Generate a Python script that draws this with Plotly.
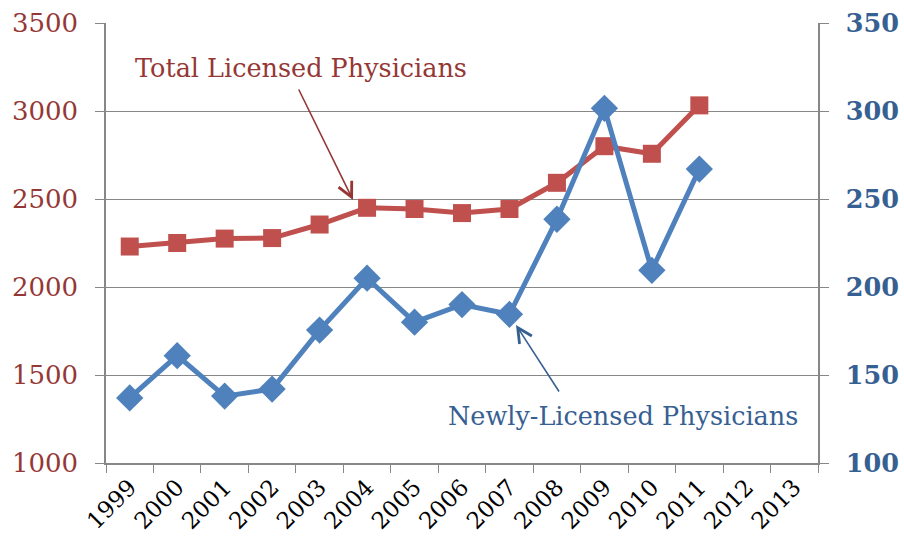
import plotly.graph_objects as go

years = [str(y) for y in range(1999, 2014)]
data_years = [str(y) for y in range(1999, 2012)]
total_licensed = [2230, 2250, 2275, 2278, 2355, 2450, 2443, 2420, 2443, 2592, 2800, 2757, 3032]
newly_licensed = [137, 161, 138, 142, 175.5, 205, 180, 190, 184.5, 238.5, 301.5, 209.5, 267]
left_ticks = [1000, 1500, 2000, 2500, 3000, 3500]
right_ticks = [100, 150, 200, 250, 300, 350]

RED = "#C0504D"
RED_TXT = "#953735"
BLUE = "#4F81BD"
BLUE_TXT = "#376092"
GRID = "#878787"
FONT = "DejaVu Serif"

fig = go.Figure()
fig.add_trace(go.Scatter(
    x=data_years, y=total_licensed, mode="lines+markers",
    line=dict(color=RED, width=5), marker=dict(symbol="square", size=18, color=RED),
    yaxis="y", showlegend=False))
fig.add_trace(go.Scatter(
    x=data_years, y=newly_licensed, mode="lines+markers",
    line=dict(color=BLUE, width=5), marker=dict(symbol="diamond", size=21, color=BLUE),
    yaxis="y2", showlegend=False))

fig.update_layout(
    width=904, height=538,
    margin=dict(l=106, r=86, t=23, b=75, autoexpand=False),
    paper_bgcolor="white", plot_bgcolor="white",
    xaxis=dict(type="category", categoryorder="array", categoryarray=years,
               range=[-0.5, len(years) - 0.5],
               tickmode="array", tickvals=years, ticktext=years,
               tickson="boundaries", ticks="outside", ticklen=8, tickcolor=GRID,
               tickangle=-45, showline=True, linecolor=GRID, linewidth=1.5,
               showgrid=False, zeroline=False,
               tickfont=dict(family=FONT, size=23, color="black")),
    yaxis=dict(range=[1000, 3500], tickvals=left_ticks, ticks="outside", ticklen=9,
               tickcolor=GRID, showline=True, linecolor=GRID, linewidth=1.5,
               showgrid=True, gridcolor=GRID, gridwidth=1.2, zeroline=False,
               ticklabelstandoff=12,
               tickfont=dict(family=FONT, size=26, color=RED_TXT)),
    yaxis2=dict(range=[100, 350], tickvals=right_ticks, overlaying="y", side="right",
                ticks="outside", ticklen=9, tickcolor=GRID, showline=True,
                linecolor=GRID, linewidth=1.5, showgrid=False, zeroline=False,
                ticklabelstandoff=12,
                tickfont=dict(family=FONT, size=25.5, color=BLUE_TXT, weight="bold")),
)

fig.add_annotation(xref="paper", yref="paper", x=(133 - 106) / 712, y=(463 - 68) / 440,
                   text="Total Licensed Physicians", showarrow=False,
                   xanchor="left", yanchor="middle",
                   font=dict(family=FONT, size=25.5, color=RED_TXT))
fig.add_annotation(xref="paper", yref="paper", x=(353 - 106) / 712, y=(463 - 200) / 440,
                   ax=-55, ay=-112, text="", showarrow=True,
                   arrowhead=5, arrowsize=1.8, arrowwidth=1.6, arrowcolor=RED_TXT)
fig.add_annotation(xref="paper", yref="paper", x=(446 - 106) / 712, y=(463 - 416) / 440,
                   text="Newly-Licensed Physicians", showarrow=False,
                   xanchor="left", yanchor="middle",
                   font=dict(family=FONT, size=25.5, color=BLUE_TXT))
fig.add_annotation(xref="paper", yref="paper", x=(516 - 106) / 712, y=(463 - 325) / 440,
                   ax=44, ay=68, text="", showarrow=True,
                   arrowhead=5, arrowsize=1.8, arrowwidth=1.6, arrowcolor=BLUE_TXT)

fig.write_html("out.html", config={"displayModeBar": False},
               post_script="document.body.style.margin='0';document.body.style.padding='0';")
